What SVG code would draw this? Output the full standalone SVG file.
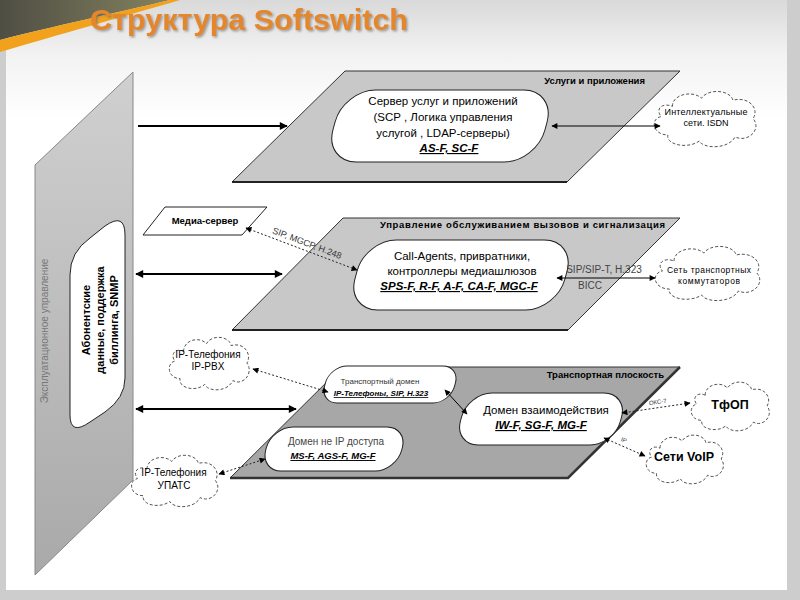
<svg xmlns="http://www.w3.org/2000/svg" width="800" height="600" viewBox="0 0 800 600">
<style>
text{font-family:"Liberation Sans",Arial,sans-serif;fill:#000}
.plane{stroke:#333;stroke-width:1}
.node{fill:#fff;stroke:#222;stroke-width:1}
.lbl{font-weight:bold;font-size:9.5px}
.t{font-size:11.5px}
.b{font-size:11.5px;font-weight:bold;font-style:italic;text-decoration:underline}
.cl{fill:#fff;stroke:#555;stroke-width:1;stroke-dasharray:3 2}
.conn{stroke:#000;fill:none;stroke-width:1}
.thick{stroke:#000;fill:none;stroke-width:2}
.dot{stroke:#222;fill:none;stroke-width:1;stroke-dasharray:2 2}
.small{font-size:6px;fill:#333}
</style>
<defs>
<linearGradient id="bg" x1="0" y1="0" x2="0" y2="1">
<stop offset="0" stop-color="#d9d9d9"/><stop offset="0.09" stop-color="#f2f2f2"/><stop offset="0.2" stop-color="#ffffff"/><stop offset="1" stop-color="#ffffff"/>
</linearGradient>
<linearGradient id="olive" x1="0" y1="0" x2="1" y2="0">
<stop offset="0" stop-color="#4e4e44"/><stop offset="1" stop-color="#85825f"/>
</linearGradient>
<linearGradient id="lp" x1="0" y1="0" x2="0" y2="1">
<stop offset="0" stop-color="#d0d0d0"/><stop offset="1" stop-color="#a9a9a9"/>
</linearGradient>
<filter id="sh" x="-5%" y="-20%" width="110%" height="150%">
<feDropShadow dx="1.5" dy="1.5" stdDeviation="1" flood-color="#666" flood-opacity="0.6"/>
</filter>
<marker id="ah" viewBox="0 0 10 10" refX="9" refY="5" markerWidth="8" markerHeight="6" orient="auto-start-reverse" markerUnits="userSpaceOnUse"><path d="M0,0 L10,5 L0,10 Z" fill="#000"/></marker>
<marker id="ahb" viewBox="0 0 10 10" refX="9" refY="5" markerWidth="12" markerHeight="8" orient="auto-start-reverse" markerUnits="userSpaceOnUse"><path d="M0,0 L10,5 L0,10 Z" fill="#000"/></marker>
<path id="cloud" d="M20,18 C20,6 38,2 46,10 C52,0 72,2 74,12 C88,8 98,20 92,30 C100,40 88,54 76,48 C70,60 48,60 44,52 C34,60 14,56 16,46 C2,46 0,30 10,28 C4,20 12,14 20,18 Z" vector-effect="non-scaling-stroke"/>
</defs>

<!-- background -->
<rect width="800" height="600" fill="#cdcdcd"/>
<rect x="6" y="0" width="781" height="590" fill="url(#bg)"/>
<path d="M0,0 H170 C120,12 50,27 0,40 Z" fill="url(#olive)"/>
<path d="M0,40 C50,27 120,12 170,0 H180 C128,15 55,36 0,52 Z" fill="#f2a11d"/>
<text x="90" y="30" font-size="30" font-weight="bold" textLength="318" lengthAdjust="spacingAndGlyphs" filter="url(#sh)" style="fill:#e4872a">Структура Softswitch</text>

<!-- left panel -->
<g id="panel-ops">
<polygon points="35,165 133,72 133,480 35,575" fill="url(#lp)" stroke="#888" stroke-width="1"/>
<text transform="translate(48,331) rotate(-90)" text-anchor="middle" font-size="10" style="fill:#777">Эксплуатационное управление</text>
</g>
<g id="node-billing">
<path class="node" d="M70,275 Q70,252 90,238 L105,226 Q125,212 125,235 L125,378 Q125,398 105,412 L90,422 Q70,436 70,415 Z"/>
<text transform="translate(90,320) rotate(-90)" text-anchor="middle" font-size="11" font-weight="bold">Абонентские</text>
<text transform="translate(104,320) rotate(-90)" text-anchor="middle" font-size="11" font-weight="bold">данные, поддержка</text>
<text transform="translate(118,320) rotate(-90)" text-anchor="middle" font-size="11" font-weight="bold">биллинга, SNMP</text>
</g>

<!-- plane 1 -->
<g id="plane-services">
<polygon class="plane" points="345,71 680,71 567,182 232,182" fill="#c8c8c8"/>
<line x1="232" y1="182" x2="567" y2="182" stroke="#222" stroke-width="2"/>
<text class="lbl" x="645" y="84" text-anchor="end">Услуги и приложения</text>
</g>
<g id="node-as">
<rect class="node" x="334" y="90" width="212" height="72" rx="32" transform="translate(0,126) skewX(-15) translate(0,-126)"/>
<text class="t" x="443" y="105" text-anchor="middle">Сервер услуг и приложений</text>
<text class="t" x="443" y="121" text-anchor="middle">(SCP , Логика управления</text>
<text class="t" x="443" y="137" text-anchor="middle">услугой , LDAP-серверы)</text>
<text class="b" x="449" y="152" text-anchor="middle">AS-F, SC-F</text>
</g>

<!-- plane 2 -->
<g id="plane-call">
<polygon class="plane" points="343,218 680,218 568,330 232,330" fill="#c8c8c8"/>
<line x1="232" y1="330" x2="568" y2="330" stroke="#222" stroke-width="2"/>
<text class="lbl" x="665" y="228" text-anchor="end" textLength="285" lengthAdjust="spacing">Управление обслуживанием вызовов и сигнализация</text>
</g>
<g id="node-ca">
<rect class="node" x="356" y="240" width="210" height="70" rx="31" transform="translate(0,275) skewX(-15) translate(0,-275)"/>
<text class="t" x="462" y="260" text-anchor="middle">Call-Agents, привратники,</text>
<text class="t" x="462" y="275" text-anchor="middle">контроллеры медиашлюзов</text>
<text class="b" x="459" y="290" text-anchor="middle">SPS-F, R-F, A-F, CA-F, MGC-F</text>
</g>
<g id="node-media">
<polygon class="node" points="165,207 267,207 242,235 143,235"/>
<text class="lbl" x="205" y="224" text-anchor="middle" font-size="10">Медиа-сервер</text>
</g>

<!-- plane 3 -->
<g id="plane-transport">
<polygon class="plane" points="342,367 680,367 568,478 230,478" fill="#a7a7a7"/>
<polyline points="230,478 568,478 680,367" fill="none" stroke="#333" stroke-width="2.5"/>
<text class="lbl" x="664" y="378" text-anchor="end" font-size="10">Транспортная плоскость</text>
</g>
<g id="node-td">
<rect class="node" x="325" y="366" width="130" height="37" rx="17" transform="translate(0,384.5) skewX(-15) translate(0,-384.5)"/>
<text x="380" y="384" text-anchor="middle" font-size="8" style="fill:#333">Транспортный домен</text>
<text x="381" y="396" text-anchor="middle" font-size="8" font-weight="bold" font-style="italic" text-decoration="underline">IP-Телефоны, SIP, H.323</text>
</g>
<g id="node-iw">
<rect class="node" x="461" y="393" width="160" height="52" rx="24" transform="translate(0,419) skewX(-15) translate(0,-419)"/>
<text class="t" x="546" y="414" text-anchor="middle">Домен взаимодействия</text>
<text class="b" x="541" y="429" text-anchor="middle" font-size="10.5">IW-F, SG-F, MG-F</text>
</g>
<g id="node-nonip">
<rect class="node" x="266" y="427" width="136" height="44" rx="21" transform="translate(0,449) skewX(-15) translate(0,-449)"/>
<text x="336" y="445" text-anchor="middle" font-size="10" style="fill:#444">Домен не IP доступа</text>
<text x="333" y="459" text-anchor="middle" font-size="9.5" font-weight="bold" font-style="italic" text-decoration="underline">MS-F, AGS-F, MG-F</text>
</g>

<!-- clouds -->
<g id="cloud-in">
<use href="#cloud" class="cl" transform="translate(650,88) scale(1.12,1.02)"/>
<text x="706" y="115" text-anchor="middle" font-size="9" textLength="83" lengthAdjust="spacing">Интеллектуальные</text>
<text x="706" y="126" text-anchor="middle" font-size="9">сети. ISDN</text>
</g>
<g id="cloud-tsw">
<use href="#cloud" class="cl" transform="translate(651,243) scale(1.15,1)"/>
<text x="709" y="273" text-anchor="middle" font-size="8.5" textLength="84" lengthAdjust="spacing">Сеть транспортных</text>
<text x="709" y="284" text-anchor="middle" font-size="8.5" textLength="62" lengthAdjust="spacing">коммутаторов</text>
</g>
<g id="cloud-pbx">
<use href="#cloud" class="cl" transform="translate(166,334) scale(0.88,0.97)"/>
<text x="208" y="358" text-anchor="middle" font-size="10">IP-Телефония</text>
<text x="208" y="370" text-anchor="middle" font-size="10">IP-PBX</text>
</g>
<g id="cloud-upats">
<use href="#cloud" class="cl" transform="translate(128,452) scale(0.95,0.95)"/>
<text x="174" y="476" text-anchor="middle" font-size="10">IP-Телефония</text>
<text x="174" y="489" text-anchor="middle" font-size="10">УПАТС</text>
</g>
<g id="cloud-pstn">
<use href="#cloud" class="cl" transform="translate(688,379) scale(0.86,0.9)"/>
<text x="730" y="409" text-anchor="middle" font-size="12.5" font-weight="bold">ТфОП</text>
</g>
<g id="cloud-voip">
<use href="#cloud" class="cl" transform="translate(643,432) scale(0.85,0.9)"/>
<text x="684" y="461" text-anchor="middle" font-size="12.5" font-weight="bold">Сети VoIP</text>
</g>

<!-- connectors -->
<g id="connectors">
<line class="thick" x1="138" y1="126" x2="287" y2="126" marker-end="url(#ahb)"/>
<line class="thick" x1="136" y1="274" x2="282" y2="274" marker-start="url(#ahb)" marker-end="url(#ahb)"/>
<line class="thick" x1="136" y1="409" x2="296" y2="409" marker-start="url(#ahb)" marker-end="url(#ahb)"/>
<line class="conn" x1="552" y1="126" x2="660" y2="126" marker-start="url(#ah)" marker-end="url(#ah)"/>
<line class="conn" x1="557" y1="278" x2="655" y2="278" marker-start="url(#ah)" marker-end="url(#ah)"/>
<text x="604" y="273" text-anchor="middle" font-size="10" style="fill:#444">SIP/SIP-T, H.323</text>
<text x="590" y="289" text-anchor="middle" font-size="10" style="fill:#444">BICC</text>
<line class="dot" x1="246" y1="228" x2="357" y2="270" marker-start="url(#ah)" marker-end="url(#ah)"/>
<text transform="translate(306,246) rotate(21)" text-anchor="middle" font-size="9" style="fill:#333">SIP, MGCP, H.248</text>
<line class="conn" x1="445" y1="390" x2="467" y2="414" marker-start="url(#ah)" marker-end="url(#ah)"/>
<line class="dot" x1="253" y1="369" x2="328" y2="392" marker-start="url(#ah)" marker-end="url(#ah)"/>
<line class="dot" x1="219" y1="474" x2="265" y2="459" marker-start="url(#ah)" marker-end="url(#ah)"/>
<line class="dot" x1="690" y1="403" x2="622" y2="413" marker-start="url(#ah)" marker-end="url(#ah)"/>
<text transform="translate(658,404) rotate(-8)" text-anchor="middle" class="small">ОКС-7</text>
<line class="dot" x1="604" y1="438" x2="645" y2="456" marker-start="url(#ah)" marker-end="url(#ah)"/>
<text transform="translate(623,442) rotate(24)" text-anchor="middle" class="small">IP</text>
</g>
</svg>
